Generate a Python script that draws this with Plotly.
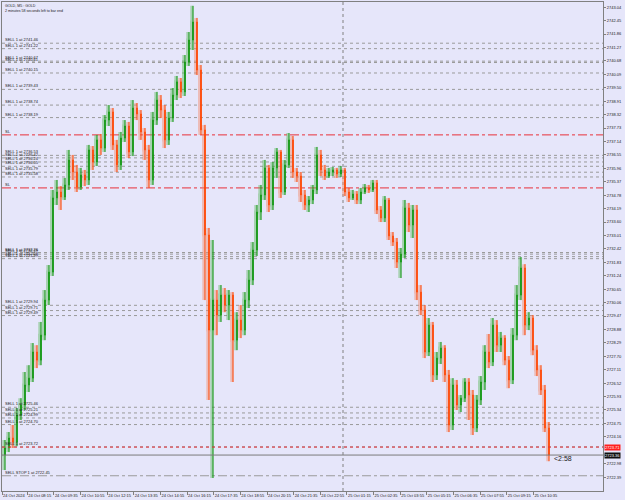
import plotly.graph_objects as go

title_lines = ["GOLD, M5 : GOLD", "2 minutes 58 seconds left to bar end"]

opens = [2723.36, 2723.67, 2724.11, 2723.93, 2725.12, 2725.56, 2726.44, 2726.74, 2727.89, 2727.53,
         2728.63, 2730.17, 2731.40, 2734.66, 2734.92, 2734.70, 2735.23, 2736.33, 2735.80, 2735.14,
         2735.67, 2735.45, 2736.77, 2736.24, 2737.21, 2736.85, 2738.08, 2738.44, 2736.99, 2736.11,
         2737.29, 2737.82, 2736.68, 2738.61, 2738.35, 2737.56, 2736.77, 2735.45, 2738.08, 2738.96,
         2738.52, 2737.21, 2738.17, 2739.18, 2739.76, 2739.32, 2740.63, 2741.60, 2742.39, 2740.28,
         2737.65, 2733.03, 2728.85, 2730.17, 2729.51, 2730.39, 2729.95, 2730.39, 2728.41, 2729.29,
         2728.85, 2730.17, 2731.05, 2732.37, 2734.04, 2734.79, 2735.98, 2734.35, 2735.98, 2736.68,
         2734.92, 2736.11, 2737.21, 2735.80, 2735.62, 2734.79, 2734.35, 2734.57, 2735.01, 2736.55,
         2735.89, 2735.62, 2735.80, 2735.89, 2735.71, 2735.89, 2734.92, 2734.66, 2734.83, 2734.57,
         2734.92, 2735.10, 2735.01, 2735.32, 2734.13, 2733.78, 2734.57, 2732.99, 2732.72, 2731.84,
         2732.19, 2734.22, 2733.47, 2734.13, 2730.52, 2729.73, 2727.89, 2729.07, 2726.88, 2727.62,
         2728.06, 2726.88, 2724.68, 2726.44, 2725.56, 2725.86, 2726.57, 2726.00, 2724.55, 2725.78,
         2726.57, 2727.89, 2727.45, 2729.07, 2728.19, 2728.50, 2727.53, 2726.66, 2728.63, 2730.39,
         2731.58, 2729.07, 2729.38, 2727.97, 2727.10, 2726.22, 2724.55]
highs = [2724.02, 2724.37, 2724.68, 2725.42, 2725.86, 2727.01, 2727.31, 2728.28, 2728.19, 2729.21,
         2730.61, 2731.71, 2735.01, 2735.45, 2735.18, 2735.54, 2736.77, 2736.55, 2736.11, 2735.98,
         2735.89, 2736.99, 2736.94, 2737.43, 2737.47, 2738.30, 2738.74, 2738.61, 2737.21, 2737.56,
         2738.08, 2738.00, 2738.96, 2738.83, 2738.52, 2737.73, 2736.99, 2738.44, 2739.32, 2739.18,
         2738.74, 2738.44, 2739.49, 2740.02, 2739.93, 2740.94, 2741.95, 2743.10, 2742.57, 2740.50,
         2737.87, 2733.34, 2732.81, 2730.61, 2730.83, 2730.70, 2730.61, 2730.52, 2729.64, 2729.95,
         2730.52, 2731.49, 2732.72, 2734.35, 2735.23, 2736.33, 2736.11, 2736.24, 2736.85, 2736.77,
         2736.33, 2737.51, 2737.38, 2735.98, 2735.80, 2735.01, 2734.74, 2735.23, 2736.90, 2736.77,
         2736.11, 2735.98, 2736.02, 2735.98, 2736.06, 2735.98, 2735.10, 2735.01, 2734.96, 2735.10,
         2735.27, 2735.23, 2735.45, 2735.45, 2734.30, 2734.74, 2734.66, 2733.16, 2732.90, 2732.46,
         2734.57, 2734.44, 2734.35, 2734.35, 2730.83, 2729.95, 2729.38, 2729.21, 2727.89, 2728.33,
         2728.19, 2727.10, 2726.74, 2726.66, 2726.00, 2726.74, 2726.74, 2726.22, 2726.00, 2726.83,
         2728.19, 2728.68, 2729.38, 2729.29, 2728.77, 2728.63, 2727.71, 2728.94, 2730.83, 2732.06,
         2731.75, 2729.64, 2729.51, 2728.19, 2727.31, 2726.44, 2724.81]
lows = [2722.70, 2723.49, 2723.67, 2723.75, 2724.90, 2725.34, 2726.13, 2726.57, 2727.18, 2727.31,
        2728.41, 2729.95, 2731.23, 2734.35, 2734.13, 2734.57, 2735.01, 2735.45, 2734.92, 2735.01,
        2735.18, 2735.23, 2735.89, 2736.06, 2736.55, 2736.68, 2737.82, 2736.77, 2735.80, 2735.89,
        2737.12, 2736.41, 2736.50, 2738.08, 2737.21, 2736.33, 2735.10, 2735.23, 2737.87, 2738.17,
        2736.85, 2736.99, 2738.00, 2738.96, 2739.05, 2739.14, 2740.46, 2741.16, 2740.06, 2737.43,
        2730.17, 2725.78, 2722.35, 2728.63, 2729.21, 2729.64, 2729.29, 2726.57, 2727.97, 2728.50,
        2728.63, 2729.82, 2730.83, 2732.11, 2733.69, 2734.57, 2734.04, 2734.13, 2735.54, 2734.66,
        2734.79, 2735.98, 2735.54, 2735.36, 2734.48, 2734.13, 2734.04, 2734.39, 2734.83, 2735.62,
        2735.45, 2735.54, 2735.62, 2735.54, 2735.58, 2734.74, 2734.48, 2734.57, 2734.39, 2734.39,
        2734.83, 2734.88, 2734.92, 2733.95, 2733.60, 2733.60, 2732.81, 2732.55, 2731.58, 2731.14,
        2732.02, 2733.16, 2732.90, 2730.17, 2729.51, 2727.62, 2727.71, 2726.57, 2726.66, 2727.36,
        2726.57, 2724.37, 2724.46, 2725.34, 2725.25, 2725.69, 2724.90, 2724.24, 2724.37, 2725.56,
        2726.22, 2727.18, 2727.27, 2727.89, 2727.89, 2727.31, 2726.30, 2726.48, 2728.41, 2730.17,
        2728.63, 2728.85, 2727.75, 2726.83, 2726.00, 2724.37, 2723.09]
closes = [2723.67, 2724.11, 2723.93, 2725.12, 2725.56, 2726.44, 2726.74, 2727.89, 2727.53, 2728.63,
          2730.17, 2731.40, 2734.66, 2734.92, 2734.70, 2735.23, 2736.33, 2735.80, 2735.14, 2735.67,
          2735.45, 2736.77, 2736.24, 2737.21, 2736.85, 2738.08, 2738.44, 2736.99, 2736.11, 2737.29,
          2737.82, 2736.68, 2738.61, 2738.35, 2737.56, 2736.77, 2735.45, 2738.08, 2738.96, 2738.52,
          2737.21, 2738.17, 2739.18, 2739.76, 2739.32, 2740.63, 2741.60, 2742.39, 2740.28, 2737.65,
          2733.03, 2728.85, 2730.17, 2729.51, 2730.39, 2729.95, 2730.39, 2728.41, 2729.29, 2728.85,
          2730.17, 2731.05, 2732.37, 2734.04, 2734.79, 2735.98, 2734.35, 2735.98, 2736.68, 2734.92,
          2736.11, 2737.21, 2735.80, 2735.62, 2734.79, 2734.35, 2734.57, 2735.01, 2736.55, 2735.89,
          2735.62, 2735.80, 2735.89, 2735.71, 2735.89, 2734.92, 2734.66, 2734.83, 2734.57, 2734.92,
          2735.10, 2735.01, 2735.32, 2734.13, 2733.78, 2734.57, 2732.99, 2732.72, 2731.84, 2732.19,
          2734.22, 2733.47, 2734.13, 2730.52, 2729.73, 2727.89, 2729.07, 2726.88, 2727.62, 2728.06,
          2726.88, 2724.68, 2726.44, 2725.56, 2725.86, 2726.57, 2726.00, 2724.55, 2725.78, 2726.57,
          2727.89, 2727.45, 2729.07, 2728.19, 2728.50, 2727.53, 2726.66, 2728.63, 2730.39, 2731.58,
          2729.07, 2729.38, 2727.97, 2727.10, 2726.22, 2724.55, 2723.36]
bars = list(range(len(closes)))

time_labels = ["24 Oct 2024", "24 Oct 08:15", "24 Oct 09:35", "24 Oct 10:55", "24 Oct 12:15",
               "24 Oct 13:35", "24 Oct 14:55", "24 Oct 16:15", "24 Oct 17:35", "24 Oct 18:55",
               "24 Oct 20:15", "24 Oct 21:35", "24 Oct 22:55", "25 Oct 01:15", "25 Oct 02:35",
               "25 Oct 03:55", "25 Oct 05:15", "25 Oct 06:35", "25 Oct 07:55", "25 Oct 09:15",
               "25 Oct 10:35"]
day_break_bar = 84.5

price_ticks = [2743.04, 2742.45, 2741.86, 2741.27, 2740.68, 2740.09, 2739.50, 2738.91, 2738.32,
               2737.73, 2737.14, 2736.55, 2735.96, 2735.37, 2734.78, 2734.19, 2733.60, 2733.01,
               2732.42, 2731.83, 2731.24, 2730.65, 2730.06, 2729.47, 2728.88, 2728.29, 2727.70,
               2727.11, 2726.52, 2725.93, 2725.34, 2724.75, 2724.16, 2722.98, 2722.39]

sell_orders = [2741.46, 2741.22, 2740.67, 2740.61, 2740.15, 2739.43, 2738.74, 2738.19,
               2736.53, 2736.42, 2736.24, 2736.05, 2735.79, 2735.58,
               2732.26, 2732.19, 2732.08, 2731.99,
               2729.94, 2729.71, 2729.49,
               2725.46, 2725.21, 2724.99, 2724.70, 2723.72]
sell_stop = [2722.45]
sl_levels = [2737.43, 2735.10]
bid = 2723.36
ask = 2723.71
timer_text = "<2:58"

BG = "#E6E6FA"
UP = "#0f960f"
DN = "#ff4500"
FONT = "Liberation Sans"

fig = go.Figure()

# faded duplicate layer (the reference shows blurred double candles)
fig.add_trace(go.Candlestick(
    x=[b - 0.3 for b in bars], open=opens, high=highs, low=lows, close=closes,
    increasing=dict(line=dict(color="#5cb85c", width=3), fillcolor="#5cb85c"),
    decreasing=dict(line=dict(color="#f58a6a", width=3), fillcolor="#f58a6a"),
    opacity=0.45, hoverinfo="skip", showlegend=False))

fig.add_trace(go.Candlestick(
    x=bars, open=opens, high=highs, low=lows, close=closes,
    increasing=dict(line=dict(color=UP, width=1), fillcolor=UP),
    decreasing=dict(line=dict(color=DN, width=1), fillcolor=DN),
    showlegend=False))

shapes = []
annotations = []

for p in sell_orders:
    shapes.append(dict(type="line", xref="paper", x0=0, x1=1, yref="y", y0=p, y1=p,
                       line=dict(color="#9a9a9a", width=1, dash="dot"), layer="below"))
    annotations.append(dict(xref="paper", x=0.002, y=p, yref="y", xanchor="left",
                            yanchor="bottom", text=f"SELL 1 at {p:.2f}", showarrow=False,
                            font=dict(family=FONT, size=4, color="#202020"), yshift=-1))
for p in sell_stop:
    shapes.append(dict(type="line", xref="paper", x0=0, x1=1, yref="y", y0=p, y1=p,
                       line=dict(color="#9a9a9a", width=1, dash="dashdot"), layer="below"))
    annotations.append(dict(xref="paper", x=0.002, y=p, yref="y", xanchor="left",
                            yanchor="bottom", text=f"SELL STOP 1 at {p:.2f}", showarrow=False,
                            font=dict(family=FONT, size=4, color="#202020"), yshift=-1))
for p in sl_levels:
    shapes.append(dict(type="line", xref="paper", x0=0, x1=1, yref="y", y0=p, y1=p,
                       line=dict(color="#e8303a", width=1, dash="dashdot"), layer="below"))
    annotations.append(dict(xref="paper", x=0.002, y=p, yref="y", xanchor="left",
                            yanchor="bottom", text="SL", showarrow=False,
                            font=dict(family=FONT, size=4, color="#202020"), yshift=-1))

# ask / bid lines
shapes.append(dict(type="line", xref="paper", x0=0, x1=1, yref="y", y0=ask, y1=ask,
                   line=dict(color="#e8303a", width=1, dash="dot")))
shapes.append(dict(type="line", xref="paper", x0=0, x1=1, yref="y", y0=bid, y1=bid,
                   line=dict(color="#7a7a7a", width=1)))
# day separator
shapes.append(dict(type="line", xref="x", x0=day_break_bar, x1=day_break_bar, yref="paper",
                   y0=0, y1=1, line=dict(color="#808080", width=1, dash="dot"), layer="below"))

annotations.append(dict(xref="paper", x=1, y=ask, yref="y", xanchor="left", yanchor="middle",
                        text=f"{ask:.2f}", showarrow=False, bgcolor="#ff2020", borderpad=0,
                        font=dict(family=FONT, size=4, color="white"), xshift=1))
annotations.append(dict(xref="paper", x=1, y=bid, yref="y", xanchor="left", yanchor="middle",
                        text=f"{bid:.2f}", showarrow=False, bgcolor="#101010", borderpad=0,
                        font=dict(family=FONT, size=4, color="white"), xshift=1))
annotations.append(dict(xref="x", x=bars[-1] + 0.7, y=bid, yref="y", xanchor="left",
                        yanchor="middle", text=timer_text, showarrow=False,
                        font=dict(family=FONT, size=7, color="#202020"), yshift=-3))
annotations.append(dict(xref="paper", yref="paper", x=0.002, y=0.999, xanchor="left",
                        yanchor="top", text="<br>".join(title_lines), showarrow=False, align="left",
                        font=dict(family=FONT, size=3.6, color="#202020")))

tick_bars = [max(-0.75, -1.1 + 6.66 * k) for k in range(len(time_labels))]

fig.update_layout(
    width=625, height=500,
    margin=dict(l=2, r=22, t=2, b=9),
    paper_bgcolor=BG, plot_bgcolor=BG,
    shapes=shapes, annotations=annotations,
    font=dict(family=FONT, size=4, color="#202020"),
    xaxis=dict(range=[-0.75, 149.5], rangeslider=dict(visible=False), showgrid=False,
               zeroline=False, tickvals=tick_bars, ticktext=time_labels,
               ticks="outside", ticklen=3, tickcolor="#808080", tickangle=0,
               ticklabelposition="outside right",
               tickfont=dict(family=FONT, size=4, color="#202020"),
               showline=True, linecolor="#808080", linewidth=1, mirror=True),
    yaxis=dict(range=[2721.78, 2743.27], side="right", showgrid=False, zeroline=False,
               tickvals=price_ticks, ticktext=[f"{v:.2f}" for v in price_ticks],
               ticks="outside", ticklen=2, tickcolor="#808080",
               tickfont=dict(family=FONT, size=4, color="#202020"),
               showline=True, linecolor="#808080", linewidth=1, mirror=True),
)

fig.write_html("out.html")
